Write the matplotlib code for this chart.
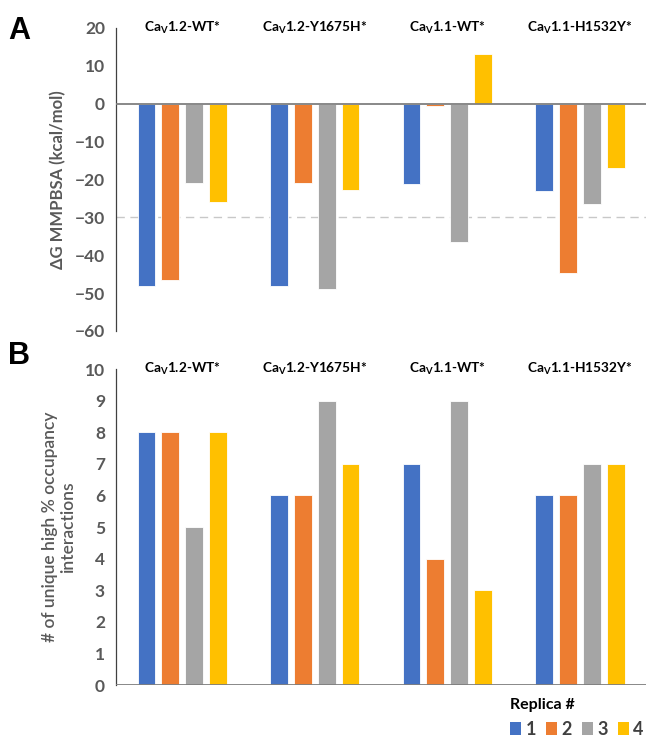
import numpy as np
import matplotlib.pyplot as plt
from matplotlib.patches import Patch

# Channel constructs and replica results
constructs = [r'Ca$_\mathbf{V}$1.2-WT*', r'Ca$_\mathbf{V}$1.2-Y1675H*',
              r'Ca$_\mathbf{V}$1.1-WT*', r'Ca$_\mathbf{V}$1.1-H1532Y*']
replicas = ['1', '2', '3', '4']

# Binding free energy (kcal/mol), one list per replica
dg_rep1 = [-48.1, -48.0, -21.2, -23.0]
dg_rep2 = [-46.6, -20.8, -0.7, -44.6]
dg_rep3 = [-21.0, -48.8, -36.5, -26.4]
dg_rep4 = [-25.9, -22.8, 13.0, -17.1]

# Number of unique high % occupancy interactions, one list per replica
n_rep1 = [8, 6, 7, 6]
n_rep2 = [8, 6, 4, 6]
n_rep3 = [5, 9, 9, 7]
n_rep4 = [8, 7, 3, 7]

colors = ['#4472C4', '#ED7D31', '#A5A5A5', '#FFC000']
grey_txt = '#595959'

plt.rcParams.update({
    'font.family': ['Lato', 'DejaVu Sans'],
    'mathtext.fontset': 'custom',
    'mathtext.rm': 'Lato',
    'mathtext.bf': 'Lato:bold',
})

fig = plt.figure(figsize=(6.48, 7.38), dpi=100)
ax_a = fig.add_axes([0.179, 0.5515, 0.818, 0.4106])
ax_b = fig.add_axes([0.179, 0.0718, 0.818, 0.4282])

x = np.arange(len(constructs))
step = 0.18
width = 0.135


def draw_bars(ax, series):
    for i, vals in enumerate(series):
        ax.bar(x + (i - 1.5) * step, vals, width, color=colors[i],
               edgecolor='white', linewidth=0.6, zorder=2)
    ax.set_xlim(-0.5, 3.5)
    ax.set_xticks([])
    for s in ['top', 'right', 'bottom']:
        ax.spines[s].set_visible(False)
    ax.spines['left'].set_color('#404040')
    ax.spines['left'].set_linewidth(0.9)
    ax.tick_params(axis='y', length=0, labelsize=12.5, labelcolor=grey_txt, pad=8)
    ax.axhline(0, color='#7f7f7f', lw=1.3, zorder=3)


# Panel A: MMPBSA binding energy
draw_bars(ax_a, [dg_rep1, dg_rep2, dg_rep3, dg_rep4])
ax_a.set_ylim(-60, 20)
ax_a.set_yticks(np.arange(-60, 21, 10))
for lbl in ax_a.get_yticklabels():
    lbl.set_fontweight('bold')
ax_a.axhline(-30, color='#c8c8c8', lw=1.0, ls=(0, (6, 4)), zorder=1)
ax_a.set_ylabel('ΔG MMPBSA (kcal/mol)', fontsize=12, fontweight='bold',
                color=grey_txt, labelpad=6)
for i, name in enumerate(constructs):
    ax_a.text(i, 20, name, ha='center', va='center', fontsize=9.8,
              fontweight='bold', color='black')

# Panel B: interaction counts
draw_bars(ax_b, [n_rep1, n_rep2, n_rep3, n_rep4])
ax_b.set_ylim(0, 10)
ax_b.set_yticks(np.arange(0, 11, 1))
for lbl in ax_b.get_yticklabels():
    lbl.set_fontweight('bold')
ax_b.set_ylabel('# of unique high % occupancy\ninteractions', fontsize=12.5,
                fontweight='semibold', color=grey_txt, labelpad=6)
for i, name in enumerate(constructs):
    ax_b.text(i, 10, name, ha='center', va='center', fontsize=9.8,
              fontweight='bold', color='black')

# Panel letters
fig.text(0.012, 0.958, 'A', fontsize=22, fontweight='bold', va='center',
         family='Liberation Sans')
fig.text(0.012, 0.518, 'B', fontsize=22, fontweight='bold', va='center',
         family='Liberation Sans')

# Replica legend
handles = [Patch(facecolor=c, edgecolor='none') for c in colors]
leg = fig.legend(handles, replicas, loc='lower right', bbox_to_anchor=(1.018, -0.022),
                 ncol=4, frameon=False, title='Replica #', alignment='left',
                 handlelength=0.6, handleheight=0.75, handletextpad=0.25,
                 columnspacing=0.55, prop={'size': 13, 'weight': 'bold'},
                 title_fontproperties={'size': 11.5, 'weight': 'bold'})
for t in leg.get_texts():
    t.set_color('#404040')

fig.savefig('out.png', dpi=100)
